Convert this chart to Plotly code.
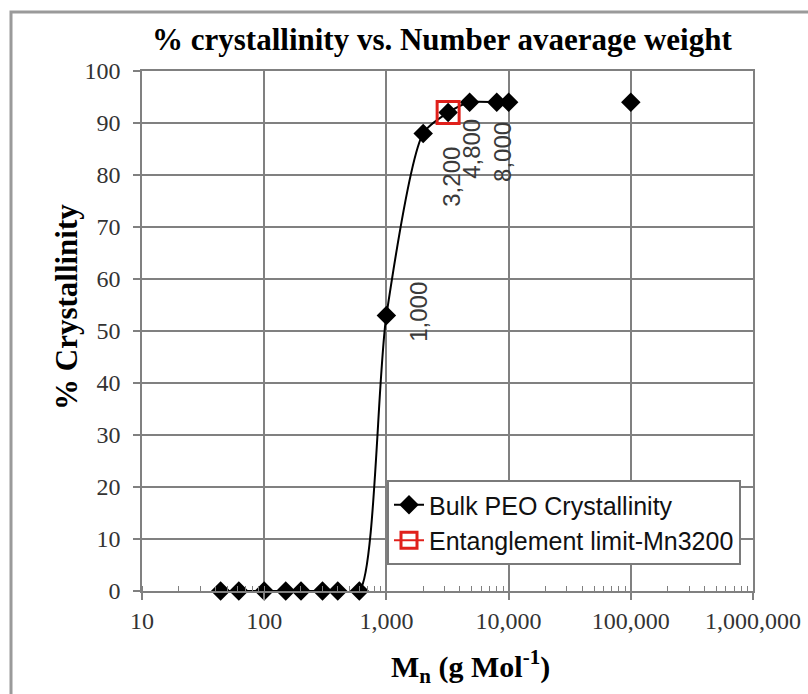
import math
import plotly.graph_objects as go

# Number-average molecular weight (g/mol) and bulk PEO crystallinity (%)
mn_values = [44, 62, 100, 150, 200, 300, 400, 600, 1000, 2000, 3200, 4800, 8000, 10000, 100000]
crystallinity = [0, 0, 0, 0, 0, 0, 0, 0, 53, 88, 92, 94, 94, 94, 94]

# Entanglement limit point
entangle_mn = [3200]
entangle_cryst = [92]

# Point labels
label_mn = [1000, 3200, 4800, 8000]
label_text = ["1,000", "3,200", "4,800", "8,000"]
label_shift = [(32, 4), (3, -64), (2, -47), (5, -50)]

# Axis ticks
x_tickvals = [10, 100, 1000, 10000, 100000, 1000000]
x_ticktext = ["10", "100", "1,000", "10,000", "100,000", "1,000,000"]
y_tickvals = [0, 10, 20, 30, 40, 50, 60, 70, 80, 90, 100]

W, H = 808, 694
L, R, T, B = 142, 55, 71, 103
PW, PH = W - L - R, H - T - B


def px(xp):
    return (xp - L) / PW


def py(yp):
    return (H - B - yp) / PH


# the 100,000 point is not joined to the rest of the curve
line_x = mn_values[:14] + [None] + mn_values[14:]
line_y = crystallinity[:14] + [None] + crystallinity[14:]

GRID = "#808080"
SERIF = "Liberation Serif"
SANS = "Liberation Sans"

fig = go.Figure()
fig.add_trace(go.Scatter(
    x=line_x, y=line_y, mode="lines+markers",
    name="Bulk PEO Crystallinity",
    line=dict(color="black", width=2, shape="spline", smoothing=0.7),
    marker=dict(symbol="diamond", size=15, color="black", line=dict(width=0)),
    connectgaps=False, cliponaxis=False,
))
fig.add_trace(go.Scatter(
    x=entangle_mn, y=entangle_cryst, mode="lines+markers",
    name="Entanglement limit-Mn3200",
    line=dict(color="#e0201b", width=2),
    marker=dict(symbol="square-open", size=22, color="#e0201b", line=dict(width=3, color="#e0201b")),
    cliponaxis=False,
))

lookup = dict(zip(mn_values, crystallinity))
annotations = []
for m, t, (dx, dy) in zip(label_mn, label_text, label_shift):
    annotations.append(dict(
        x=math.log10(m), y=lookup[m], xref="x", yref="y", text=t, showarrow=False,
        textangle=-90, xshift=dx, yshift=dy,
        font=dict(family=SANS, size=24, color="#3a3a3a"),
    ))

# chart title and axis titles
annotations.append(dict(
    x=px(442), y=py(40), xref="paper", yref="paper", showarrow=False,
    text="% crystallinity vs. Number avaerage weight",
    font=dict(family=SERIF, size=31, color="black", weight="bold"),
    xanchor="center", yanchor="middle",
))
annotations.append(dict(
    x=px(66), y=py(307), xref="paper", yref="paper", showarrow=False,
    text="% Crystallinity", textangle=-90,
    font=dict(family=SERIF, size=31, color="black", weight="bold"),
    xanchor="center", yanchor="middle",
))
annotations.append(dict(
    x=px(470), y=py(666), xref="paper", yref="paper", showarrow=False,
    text="M<sub>n</sub> (g Mol<sup>-1</sup>)",
    font=dict(family=SERIF, size=30, color="black", weight="bold"),
    xanchor="center", yanchor="middle",
))

shapes = [dict(
    type="rect", xref="paper", yref="paper",
    x0=px(11), x1=px(830), y0=py(720), y1=py(12),
    line=dict(color="#9a9a9a", width=3), fillcolor="rgba(0,0,0,0)", layer="below",
)]

fig.update_layout(
    width=W, height=H,
    margin=dict(l=L, r=R, t=T, b=B, autoexpand=False),
    paper_bgcolor="white", plot_bgcolor="white",
    showlegend=True,
    legend=dict(
        x=px(387), y=py(480), xanchor="left", yanchor="top",
        bgcolor="white", bordercolor="#7a7a7a", borderwidth=2,
        font=dict(family=SANS, size=25, color="#111111"),
        tracegroupgap=8,
    ),
    annotations=annotations,
    shapes=shapes,
)

fig.update_xaxes(
    type="log", range=[1, 6],
    tickvals=x_tickvals, ticktext=x_ticktext,
    ticks="outside", ticklen=7, tickcolor=GRID, tickwidth=1.5,
    showgrid=True, gridcolor=GRID, gridwidth=1.5,
    showline=True, linecolor=GRID, linewidth=1.5, mirror=True,
    tickfont=dict(family=SERIF, size=24, color="#333333"),
    minor=dict(ticks="inside", ticklen=5, tickcolor=GRID, tickwidth=1.2,
               dtick="D1", showgrid=False),
    zeroline=False,
)
fig.update_yaxes(
    range=[0, 100], tickvals=y_tickvals,
    ticks="outside", ticklen=7, tickcolor=GRID, tickwidth=1.5,
    showgrid=True, gridcolor=GRID, gridwidth=1.5,
    showline=True, linecolor=GRID, linewidth=1.5, mirror=True,
    tickfont=dict(family=SERIF, size=24, color="#333333"),
    ticklabelstandoff=8,
    zeroline=False,
)

fig.write_html("out.html")
